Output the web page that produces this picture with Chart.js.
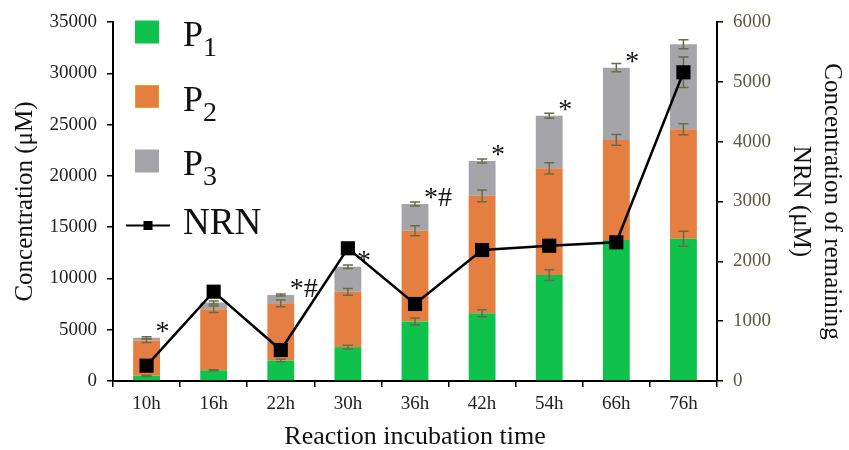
<!DOCTYPE html>
<html>
<head>
<meta charset="utf-8">
<script src="https://cdn.jsdelivr.net/npm/chart.js@4.4.1/dist/chart.umd.min.js"></script>
<style>
  html, body { margin: 0; padding: 0; background: #fff; }
</style>
</head>
<body>
<canvas id="chart" width="849" height="450"></canvas>
<script>
const times = ['10h', '16h', '22h', '30h', '36h', '42h', '54h', '66h', '76h'];

// stacked product concentrations (uM)
const p1 = [520, 1050, 2000, 3300, 5800, 6600, 10330, 13750, 13870];
const p2 = [3420, 5950, 5570, 5400, 8850, 11450, 10400, 9750, 10670];
const p3 = [280, 650, 810, 2440, 2610, 3400, 5130, 7050, 8280];
const p1Err = [50, 50, 130, 180, 340, 340, 520, 300, 730];
const p2Err = [180, 310, 330, 330, 490, 570, 550, 520, 535];
const p3Err = [100, 150, 100, 170, 200, 200, 250, 400, 440];

// remaining NRN (uM), right axis
const nrn = [256, 1493, 518, 2218, 1287, 2189, 2261, 2318, 5159];
const nrnErr = [40, 60, 50, 60, 60, 60, 60, 60, 255];

const marks = ['*', '', '*#', '*', '*#', '*', '*', '*', ''];

const leftTicks = [0, 35000, 5000];
const rightTicks = [0, 6000, 1000];

const serif = "'Liberation Serif', 'Times New Roman', serif";
const colors = ['#0fc24b', '#e47f41', '#a4a4a9'];
const errColor = '#6b6a48';

function drawErr(ctx, x, yHi, yLo) {
    ctx.beginPath();
    ctx.moveTo(x, yHi); ctx.lineTo(x, yLo);
    ctx.moveTo(x - 5, yHi); ctx.lineTo(x + 5, yHi);
    ctx.moveTo(x - 5, yLo); ctx.lineTo(x + 5, yLo);
    ctx.stroke();
}

const errorBars = {
    id: 'errorBars',
    beforeDatasetDraw(chart, args) {
        if (args.index !== 3) return;
        const ctx = chart.ctx, ys = chart.scales.y1;
        ctx.save();
        ctx.strokeStyle = errColor;
        ctx.lineWidth = 1.5;
        args.meta.data.forEach((pt, j) => {
            drawErr(ctx, pt.x, ys.getPixelForValue(nrn[j] + nrnErr[j]), ys.getPixelForValue(nrn[j] - nrnErr[j]));
        });
        ctx.restore();
    },
    afterDatasetDraw(chart, args) {
        if (args.index > 2) return;
        const ctx = chart.ctx, ys = chart.scales.y;
        const stacks = [p1, p2, p3];
        const errs = [p1Err, p2Err, p3Err];
        ctx.save();
        ctx.strokeStyle = errColor;
        ctx.lineWidth = 1.5;
        args.meta.data.forEach((bar, j) => {
            let top = 0;
            for (let k = 0; k <= args.index; k++) top += stacks[k][j];
            const e = errs[args.index][j];
            drawErr(ctx, bar.x, ys.getPixelForValue(top + e), ys.getPixelForValue(top - e));
        });
        ctx.restore();
    }
};

const extras = {
    id: 'extras',
    afterDraw(chart) {
        const ctx = chart.ctx;
        ctx.save();
        ctx.fillStyle = '#111';

        // significance marks above each stack
        ctx.font = '28px ' + serif;
        ctx.textAlign = 'left';
        ctx.textBaseline = 'alphabetic';
        chart.getDatasetMeta(2).data.forEach((bar, j) => {
            if (marks[j]) ctx.fillText(marks[j], bar.x + 9, bar.y + 2);
        });

        // legend in the upper left of the plot
        chart.data.datasets.forEach((ds, i) => {
            const y = 32 + i * 64.5;
            if (ds.type === 'line') {
                ctx.strokeStyle = '#000';
                ctx.lineWidth = 2;
                ctx.beginPath();
                ctx.moveTo(126, y); ctx.lineTo(170, y);
                ctx.stroke();
                ctx.fillStyle = '#000';
                ctx.fillRect(143.5, y - 4.5, 9, 9);
                ctx.fillStyle = '#111';
                ctx.font = '37px ' + serif;
                ctx.fillText(ds.label, 183, y + 8);
            } else {
                ctx.fillStyle = ds.backgroundColor;
                ctx.fillRect(135, y - 11.5, 24, 23);
                if (i === 1) {
                    ctx.strokeStyle = '#e8a21c';
                    ctx.lineWidth = 1;
                    ctx.strokeRect(135.5, y - 11, 23, 22);
                }
                ctx.fillStyle = '#111';
                ctx.font = '36px ' + serif;
                const main = ds.label.slice(0, 1);
                ctx.fillText(main, 183, y + 14);
                const w = ctx.measureText(main).width;
                ctx.font = '28px ' + serif;
                ctx.fillText(ds.label.slice(1), 183 + w, y + 24);
            }
        });
        ctx.restore();
    }
};

const axisGrid = {
    display: true,
    drawOnChartArea: false,
    drawTicks: true,
    tickLength: 6,
    color: '#000',
    lineWidth: 1.5
};

const plain = v => String(v);

new Chart(document.getElementById('chart'), {
    data: {
        labels: times,
        datasets: [
            { type: 'bar', label: 'P1', data: p1, backgroundColor: colors[0], stack: 'p', yAxisID: 'y', order: 1 },
            { type: 'bar', label: 'P2', data: p2, backgroundColor: colors[1], stack: 'p', yAxisID: 'y', order: 1 },
            { type: 'bar', label: 'P3', data: p3, backgroundColor: colors[2], stack: 'p', yAxisID: 'y', order: 1 },
            {
                type: 'line', label: 'NRN', data: nrn, yAxisID: 'y1', order: 0,
                borderColor: '#000', borderWidth: 2.5, backgroundColor: '#000',
                pointStyle: 'rect', pointRadius: 10, pointBorderWidth: 0, tension: 0
            }
        ]
    },
    options: {
        responsive: false,
        animation: false,
        barPercentage: 0.4,
        categoryPercentage: 1,
        layout: { padding: { top: 22, left: 0, right: 0, bottom: 0 } },
        plugins: {
            legend: { display: false },
            tooltip: { enabled: false }
        },
        scales: {
            x: {
                stacked: true,
                grid: { ...axisGrid, offset: true },
                border: { color: '#000', width: 2 },
                ticks: { font: { family: serif, size: 19 }, color: '#222', padding: 6 },
                title: { display: true, text: 'Reaction incubation time', font: { family: serif, size: 26, lineHeight: 1 }, color: '#111', padding: 0 },
                afterFit: s => { s.height = 69; }
            },
            y: {
                stacked: true,
                position: 'left',
                min: leftTicks[0], max: leftTicks[1],
                grid: axisGrid,
                border: { color: '#000', width: 2 },
                ticks: { stepSize: leftTicks[2], callback: plain, font: { family: serif, size: 19 }, color: '#222', padding: 10 },
                title: { display: true, text: 'Concentration (μM)', font: { family: serif, size: 25, lineHeight: 1.2 }, color: '#111', padding: { top: 10, bottom: 0 } },
                afterFit: s => { s.width = 113; }
            },
            y1: {
                position: 'right',
                min: rightTicks[0], max: rightTicks[1],
                grid: axisGrid,
                border: { color: '#000', width: 2 },
                ticks: { stepSize: rightTicks[2], callback: plain, font: { family: serif, size: 19 }, color: '#5b5a3e', padding: 10 },
                title: { display: true, text: ['Concentration of remaining', 'NRN (μM)'], font: { family: serif, size: 25, lineHeight: 1.25 }, color: '#111', padding: { top: 2, bottom: 0 } },
                afterFit: s => { s.width = 132; }
            }
        }
    },
    plugins: [errorBars, extras]
});
</script>
</body>
</html>
